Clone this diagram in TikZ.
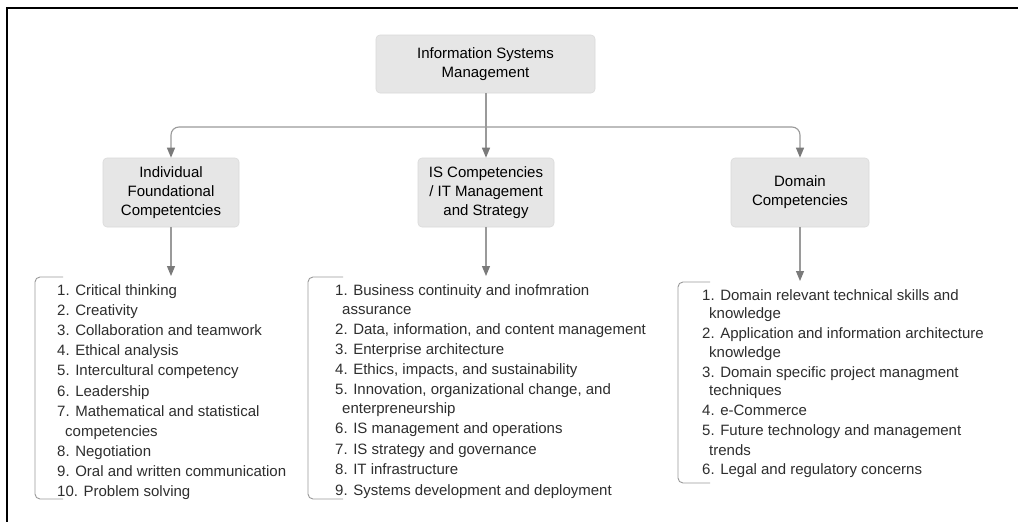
\documentclass[tikz,border=0pt]{standalone}
\usepackage{fontspec}
\setmainfont{Liberation Sans}
\usetikzlibrary{arrows.meta}
\definecolor{boxfill}{HTML}{E6E6E6}
\definecolor{boxline}{HTML}{DADADA}
\definecolor{conncol}{HTML}{9A9A9A}
\definecolor{tipcol}{HTML}{7A7A7A}
\definecolor{listtext}{HTML}{2E2E2E}
\tikzset{
  boxnode/.style={fill=boxfill, draw=boxline, line width=0.6pt, rounded corners=4pt, align=center,
    font=\fontsize{15}{19}\selectfont, text=black, inner sep=0pt},
  conn/.style={draw=conncol, line width=1.1pt},
  arr/.style={conn, -{Triangle[width=8pt,length=10pt,fill=tipcol,color=tipcol]}},
  bracketline/.style={draw=conncol, line width=0.9pt, rounded corners=5pt},
  item/.style={anchor=base west, inner sep=0pt, text=listtext, font=\fontsize{15}{18}\selectfont},
}
\begin{document}
\begin{tikzpicture}[x=1pt,y=-1pt]
\useasboundingbox (0,0) rectangle (1018,522);
\fill[white] (0,0) rectangle (1018,522);
% frame
\draw[black, line width=1.6pt] (7,522) -- (7,8) -- (1018,8);

% boxes
\node[boxnode, minimum width=219pt, minimum height=58pt] (top) at (485.5,64) {Information Systems\\Management};
\node[boxnode, minimum width=136pt, minimum height=69pt] (left) at (171,192.5) {Individual\\Foundational\\Competentcies};
\node[boxnode, minimum width=136pt, minimum height=69pt] (mid) at (486,192.5) {IS Competencies\\/ IT Management\\and Strategy};
\node[boxnode, minimum width=138pt, minimum height=69pt] (right) at (800,192.5) {Domain\\Competencies};

% connectors from top
\coordinate (jn) at (486,127);
\draw[arr] (top.south -| jn) -- (mid.north);
\draw[arr, rounded corners=8pt] (jn) -| (left.north);
\draw[arr, rounded corners=8pt] (jn) -| (right.north);

% list anchors
\coordinate (lA) at (171,276);
\coordinate (lB) at (486,276);
\coordinate (lC) at (800,281);
\draw[arr] (left.south) -- (lA);
\draw[arr] (mid.south) -- (lB);
\draw[arr] (right.south) -- (lC);

% brackets
\draw[bracketline] (63,277) -- (35,277) -- (35,499) -- (63,499);
\draw[bracketline] (343,277) -- (308,277) -- (308,499) -- (343,499);
\draw[bracketline] (710,282) -- (678,282) -- (678,483) -- (710,483);

% left list
\node[item] (a1) at (57,295.5) {1. Critical thinking};
\node[item] (a2) at (57,315.6) {2. Creativity};
\node[item] (a3) at (57,335.7) {3. Collaboration and teamwork};
\node[item] (a4) at (57,355.8) {4. Ethical analysis};
\node[item] (a5) at (57,375.9) {5. Intercultural competency};
\node[item] (a6) at (57,396.0) {6. Leadership};
\node[item] (a7) at (57,416.1) {7. Mathematical and statistical};
\node[item] (a7b) at (65,436.2) {competencies};
\node[item] (a8) at (57,456.3) {8. Negotiation};
\node[item] (a9) at (57,476.4) {9. Oral and written communication};
\node[item] (a10) at (57,496.5) {10. Problem solving};

% middle list
\node[item] (b1) at (335,295.5) {1. Business continuity and inofmration};
\node[item] (b1b) at (342,314.5) {assurance};
\node[item] (b2) at (335,334.5) {2. Data, information, and content management};
\node[item] (b3) at (335,354.5) {3. Enterprise architecture};
\node[item] (b4) at (335,374.5) {4. Ethics, impacts, and sustainability};
\node[item] (b5) at (335,394.5) {5. Innovation, organizational change, and};
\node[item] (b5b) at (342,413.5) {enterpreneurship};
\node[item] (b6) at (335,433.5) {6. IS management and operations};
\node[item] (b7) at (335,454.5) {7. IS strategy and governance};
\node[item] (b8) at (335,474.5) {8. IT infrastructure};
\node[item] (b9) at (335,495.5) {9. Systems development and deployment};

% right list
\node[item] (c1) at (702,300.5) {1. Domain relevant technical skills and};
\node[item] (c1b) at (709,318.5) {knowledge};
\node[item] (c2) at (702,338.5) {2. Application and information architecture};
\node[item] (c2b) at (709,357.5) {knowledge};
\node[item] (c3) at (702,377.5) {3. Domain specific project managment};
\node[item] (c3b) at (709,395.5) {techniques};
\node[item] (c4) at (702,415.5) {4. e-Commerce};
\node[item] (c5) at (702,435.5) {5. Future technology and management};
\node[item] (c5b) at (709,455.0) {trends};
\node[item] (c6) at (702,474.5) {6. Legal and regulatory concerns};
\end{tikzpicture}
\end{document}
